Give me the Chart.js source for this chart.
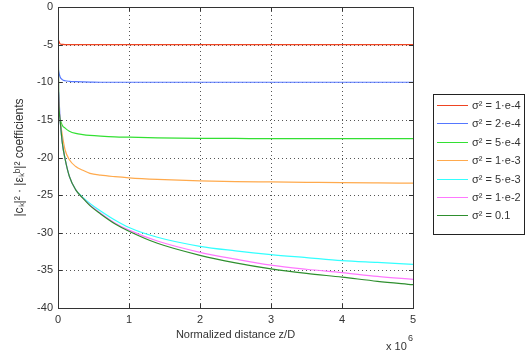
<!DOCTYPE html>
<html>
<head>
<meta charset="utf-8">
<script src="https://cdn.jsdelivr.net/npm/chart.js@4/dist/chart.umd.min.js"></script>
<style>
  html, body { margin: 0; padding: 0; background: #fff; }
  #wrap { width: 526px; height: 356px; }
</style>
</head>
<body>
<div id="wrap"><canvas id="coeffs" width="526" height="356"></canvas></div>
<script>
// normalized distance z/D, in units of 1e6
const distance = [0, 0.01, 0.03, 0.06, 0.1, 0.16, 0.25, 0.35, 0.45, 0.6, 0.8, 1, 1.4, 2, 2.5, 3, 3.5, 4, 4.5, 5];

const labels = ['σ² = 1·e-4', 'σ² = 2·e-4', 'σ² = 5·e-4', 'σ² = 1·e-3', 'σ² = 5·e-3', 'σ² = 1·e-2', 'σ² = 0.1'];
const colors = ['#ee4422', '#5577ff', '#33e033', '#ffaa4d', '#33ffff', '#ff77ff', '#2e8f2e'];

const s1e4 = [-4.3, -4.5, -4.9, -4.97, -5, -5, -5, -5, -5, -5, -5, -5, -5, -5, -5, -5, -5, -5, -5, -5];
const s2e4 = [-7.8, -8.6, -9.3, -9.65, -9.8, -9.88, -9.93, -9.96, -9.98, -10, -10, -10, -10, -10, -10, -10, -10, -10, -10, -10];
const s5e4 = [-11, -13.2, -14.8, -15.7, -16.1, -16.5, -16.8, -16.95, -17.05, -17.15, -17.25, -17.3, -17.38, -17.45, -17.47, -17.5, -17.5, -17.5, -17.5, -17.5];
const s1e3 = [-11.5, -13, -15, -17, -19, -20.3, -21.2, -21.7, -22.1, -22.35, -22.55, -22.7, -22.9, -23.1, -23.2, -23.25, -23.3, -23.35, -23.38, -23.4];
const s5e3 = [-11, -11.5, -15, -18, -20.2, -22.5, -24.3, -25.3, -26.1, -27.1, -28.3, -29.3, -30.6, -31.8, -32.4, -32.9, -33.3, -33.7, -33.95, -34.2];
const s1e2 = [-11, -11.5, -15, -18, -20.2, -22.5, -24.3, -25.4, -26.3, -27.4, -28.7, -29.65, -31.1, -32.6, -33.5, -34.3, -34.85, -35.3, -35.8, -36.2];
const s1e1 = [0, -11.5, -15, -18, -20.2, -22.5, -24.3, -25.4, -26.4, -27.5, -28.8, -29.8, -31.4, -33.0, -34.0, -34.8, -35.4, -35.9, -36.45, -36.9];

const series = [s1e4, s2e4, s5e4, s1e3, s5e3, s1e2, s1e1];

const yTicks = [0, -5, -10, -15, -20, -25, -30, -35, -40];
const xTicks = [0, 1, 2, 3, 4, 5];

const fontFamily = "'Liberation Sans', Arial, sans-serif";
const font = { family: fontFamily, size: 11 };
const textColor = '#333';

let datasets = series.map(function (vals, i) {
    return {
        label: labels[i],
        data: vals.map(function (v, j) { return { x: distance[j] * 1e6, y: v }; }),
        borderColor: colors[i],
        backgroundColor: colors[i],
        borderWidth: 1.2,
        pointRadius: 0,
        fill: false,
        cubicInterpolationMode: 'monotone',
        order: series.length - i
    };
});

// dotted grid under the curves
const dottedGrid = {
    id: 'dottedGrid',
    beforeDatasetsDraw: function (chart) {
        const ctx = chart.ctx;
        const a = chart.chartArea;
        const xs = chart.scales.x, ys = chart.scales.y;
        ctx.save();
        ctx.strokeStyle = '#555';
        ctx.lineWidth = 1;
        ctx.setLineDash([1, 3]);
        ctx.beginPath();
        xTicks.slice(1, -1).forEach(function (t) {
            const px = Math.round(xs.getPixelForValue(t * 1e6)) + 0.5;
            ctx.moveTo(px, a.top); ctx.lineTo(px, a.bottom);
        });
        yTicks.slice(1, -1).forEach(function (t) {
            const py = Math.round(ys.getPixelForValue(t)) + 0.5;
            ctx.moveTo(a.left, py); ctx.lineTo(a.right, py);
        });
        ctx.stroke();
        ctx.restore();
    }
};

// box, inward ticks, exponent and legend (matlab style)
const matlabBox = {
    id: 'matlabBox',
    afterDraw: function (chart) {
        const ctx = chart.ctx;
        const a = chart.chartArea;
        const xs = chart.scales.x, ys = chart.scales.y;
        ctx.save();
        ctx.strokeStyle = '#333';
        ctx.lineWidth = 1;
        ctx.strokeRect(Math.round(a.left) + 0.5, Math.round(a.top) + 0.5, Math.round(a.right - a.left), Math.round(a.bottom - a.top));
        ctx.beginPath();
        xTicks.forEach(function (t) {
            const px = Math.round(xs.getPixelForValue(t * 1e6)) + 0.5;
            ctx.moveTo(px, a.bottom); ctx.lineTo(px, a.bottom - 4);
            ctx.moveTo(px, a.top); ctx.lineTo(px, a.top + 4);
        });
        yTicks.forEach(function (t) {
            const py = Math.round(ys.getPixelForValue(t)) + 0.5;
            ctx.moveTo(a.left, py); ctx.lineTo(a.left + 4, py);
            ctx.moveTo(a.right, py); ctx.lineTo(a.right - 4, py);
        });
        ctx.stroke();

        // x 10^6
        ctx.fillStyle = textColor;
        ctx.font = "11px " + fontFamily;
        ctx.textBaseline = 'alphabetic';
        ctx.textAlign = 'left';
        ctx.fillText('x 10', 386, 350);
        ctx.font = "9px " + fontFamily;
        ctx.fillText('6', 408, 341);

        // legend
        const lx = 433, ly = 94, lw = 91, lh = 140;
        ctx.fillStyle = '#fff';
        ctx.fillRect(lx, ly, lw, lh);
        ctx.strokeStyle = '#222';
        ctx.strokeRect(lx + 0.5, ly + 0.5, lw, lh);
        ctx.font = "11px " + fontFamily;
        ctx.textBaseline = 'middle';
        chart.data.datasets.forEach(function (ds, i) {
            const y = Math.round(105 + i * 18.4) + 0.5;
            ctx.strokeStyle = ds.borderColor;
            ctx.lineWidth = 1;
            ctx.beginPath();
            ctx.moveTo(437, y); ctx.lineTo(468, y);
            ctx.stroke();
            ctx.fillStyle = textColor;
            ctx.fillText(ds.label, 472, y);
        });
        ctx.restore();
    }
};

const config = {
    type: 'line',
    data: { datasets: datasets },
    options: {
        responsive: false,
        animation: false,
        layout: { autoPadding: false, padding: { left: 0, top: 7, right: 113, bottom: 0 } },
        plugins: {
            legend: { display: false },
            tooltip: { enabled: false }
        },
        scales: {
            x: {
                type: 'linear',
                min: 0,
                max: 5e6,
                afterBuildTicks: function (scale) {
                    scale.ticks = xTicks.map(function (t) { return { value: t * 1e6 }; });
                },
                ticks: {
                    font: font,
                    color: textColor,
                    padding: 5,
                    maxRotation: 0,
                    callback: function (value) { return value / 1e6; }
                },
                grid: { display: false, drawTicks: false },
                border: { display: false },
                title: {
                    display: true,
                    text: 'Normalized distance z/D',
                    font: font,
                    color: textColor,
                    padding: { top: 0, bottom: 14 }
                },
                afterFit: function (scale) {
                    scale.height = 48;
                    scale.paddingLeft = 0;
                    scale.paddingRight = 0;
                }
            },
            y: {
                type: 'linear',
                min: -40,
                max: 0,
                afterBuildTicks: function (scale) {
                    scale.ticks = yTicks.map(function (t) { return { value: t }; });
                },
                ticks: {
                    font: font,
                    color: textColor,
                    padding: 5
                },
                grid: { display: false, drawTicks: false },
                border: { display: false },
                title: {
                    display: true,
                    text: '|cₖ|² · |εₖᵇ|² coefficients',
                    font: { family: fontFamily, size: 12 },
                    color: textColor,
                    padding: { top: 12, bottom: 0 }
                },
                afterFit: function (scale) {
                    scale.width = 58;
                    scale.paddingTop = 0;
                    scale.paddingBottom = 0;
                }
            }
        }
    },
    plugins: [dottedGrid, matlabBox]
};

const coeffChart = new Chart(document.getElementById('coeffs'), config);
</script>
</body>
</html>
